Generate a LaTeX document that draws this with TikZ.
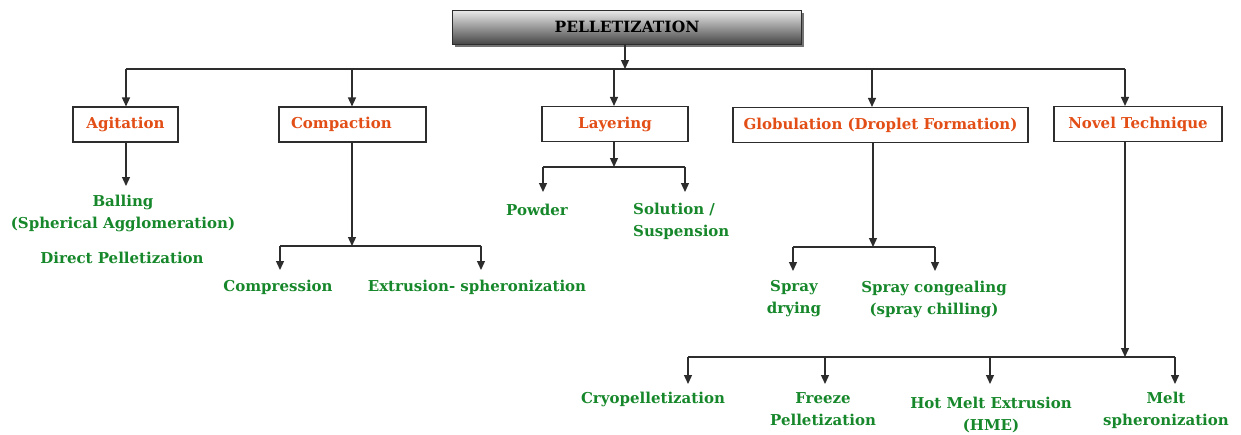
\documentclass[tikz,border=0pt]{standalone}
\usepackage{fontspec}
\setmainfont{DejaVu Serif}
\usetikzlibrary{arrows.meta,shadows}
\definecolor{boxred}{RGB}{226,78,22}
\definecolor{leafgreen}{RGB}{22,135,42}
\definecolor{linegray}{RGB}{45,45,45}
\tikzset{
  catbox/.style={draw=linegray, line width=1.1pt, fill=white, text=boxred,
    font=\bfseries\fontsize{15}{18}\selectfont, inner sep=0pt, minimum height=35pt},
  titlebox/.style={draw=linegray, line width=1pt, top color=black!8, bottom color=black!72,
    font=\bfseries\fontsize{15.5}{18}\selectfont, inner sep=0pt,
    drop shadow={shadow xshift=2.5pt, shadow yshift=-2.5pt, fill=black!55, opacity=1}},
  leaf/.style={text=leafgreen, font=\bfseries\fontsize{15}{22}\selectfont, align=center, inner sep=0pt},
  conn/.style={draw=linegray, line width=1.3pt},
  arr/.style={conn, -{Triangle[width=8pt,length=9pt]}},
}
\begin{document}
\begin{tikzpicture}[x=1pt,y=-1pt]
\useasboundingbox (0,0) rectangle (1241,434);

% title
\node[titlebox, minimum width=349pt, minimum height=34pt] (title) at (627,27) {PELLETIZATION};

% category boxes
\node[catbox, minimum width=105pt] (agit) at (125.5,124.5) {Agitation};
\node[catbox, minimum width=147pt, text width=123pt, align=left] (comp) at (352.5,124.5) {Compaction};
\node[catbox, minimum width=146pt] (layer) at (615,124) {Layering};
\node[catbox, minimum width=295pt] (glob) at (880.5,125) {Globulation (Droplet Formation)};
\node[catbox, minimum width=168pt] (novel) at (1138,124) {Novel Technique};

% leaves
\node[leaf] (ball) at (123,213) {Balling\\(Spherical Agglomeration)};
\node[leaf] (direct) at (122,258) {Direct Pelletization};
\node[leaf] (compr) at (278,287) {Compression};
\node[leaf] (extr) at (477,287) {Extrusion- spheronization};
\node[leaf] (powder) at (537,210) {Powder};
\node[leaf, align=left, anchor=west] (sol) at (633,221) {Solution /\\Suspension};
\node[leaf] (sdry) at (794,299) {Spray\\drying};
\node[leaf] (scong) at (934,299) {Spray congealing\\(spray chilling)};
\node[leaf] (cryo) at (653,399) {Cryopelletization};
\node[leaf] (freeze) at (823,409.5) {Freeze\\Pelletization};
\node[leaf] (hme) at (991,415) {Hot Melt Extrusion\\(HME)};
\node[leaf] (melt) at (1166,410.5) {Melt\\spheronization};

% top bus
\coordinate (tb) at (625,69);
\coordinate (d1) at (126,69);
\coordinate (d2) at (352,69);
\coordinate (d3) at (614,69);
\coordinate (d4) at (872,69);
\coordinate (d5) at (1125,69);
\draw[arr] (tb |- title.south) -- (tb);
\draw[conn] (d1) -- (d5);
\draw[arr] (d1) -- (d1 |- agit.north);
\draw[arr] (d2) -- (d2 |- comp.north);
\draw[arr] (d3) -- (d3 |- layer.north);
\draw[arr] (d4) -- (d4 |- glob.north);
\draw[arr] (d5) -- (d5 |- novel.north);

% agitation
\coordinate (a1) at (126,186);
\draw[arr] (d1 |- agit.south) -- (a1);

% compaction
\coordinate (cb) at (352,246);
\coordinate (cl) at (280,246);
\coordinate (cr) at (481,246);
\draw[arr] (cb |- comp.south) -- (cb);
\draw[conn] (cl) -- (cr);
\draw[arr] (cl) -- (280,270);
\draw[arr] (cr) -- (481,270);

% layering
\coordinate (lb) at (614,167);
\coordinate (ll) at (543,167);
\coordinate (lr) at (685,167);
\draw[arr] (lb |- layer.south) -- (lb);
\draw[conn] (ll) -- (lr);
\draw[arr] (ll) -- (543,192);
\draw[arr] (lr) -- (685,192);

% globulation
\coordinate (gb) at (873,247);
\coordinate (gl) at (793,247);
\coordinate (gr) at (935,247);
\draw[arr] (gb |- glob.south) -- (gb);
\draw[conn] (gl) -- (gr);
\draw[arr] (gl) -- (793,271);
\draw[arr] (gr) -- (935,271);

% novel technique
\coordinate (nb) at (1125,357);
\coordinate (n1) at (688,357);
\coordinate (n2) at (825,357);
\coordinate (n3) at (990,357);
\coordinate (n4) at (1175,357);
\draw[arr] (nb |- novel.south) -- (nb);
\draw[conn] (n1) -- (n4);
\draw[arr] (n1) -- (688,384);
\draw[arr] (n2) -- (825,384);
\draw[arr] (n3) -- (990,384);
\draw[arr] (n4) -- (1175,384);
\end{tikzpicture}
\end{document}
